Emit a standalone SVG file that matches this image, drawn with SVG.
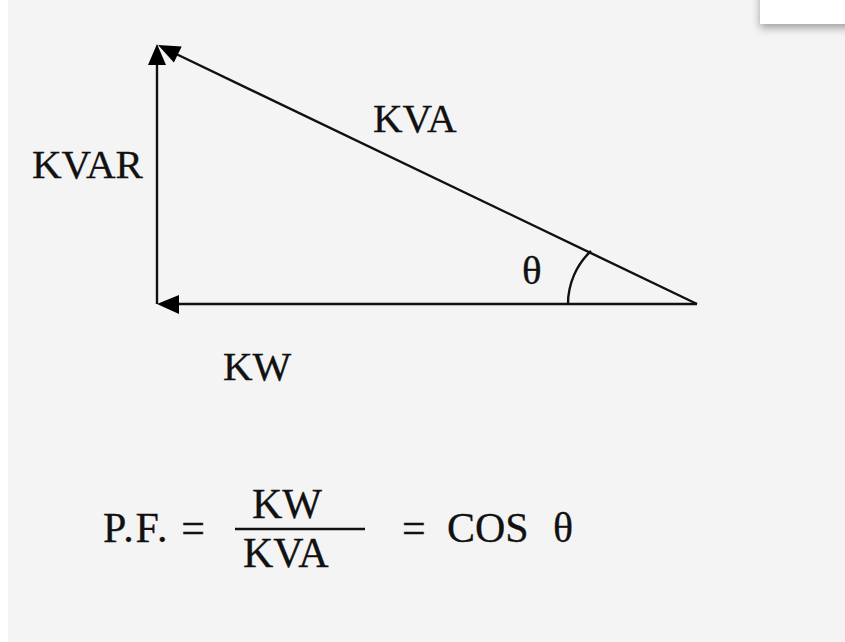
<svg xmlns="http://www.w3.org/2000/svg" width="845" height="642" viewBox="0 0 845 642">
  <style>
    .lbl { font-family: "Liberation Serif", "Times New Roman", serif; fill: #111; stroke: #111; stroke-width: 0.3; }
    .tri { font-size: 41px; }
    .eq { font-size: 42px; }
    .ln { stroke: #111; stroke-width: 2.4; fill: none; }
    .head { fill: #000; }
  </style>
  <defs>
    <filter id="sh" x="-30%" y="-50%" width="160%" height="250%">
      <feDropShadow dx="0" dy="4" stdDeviation="4" flood-color="#000" flood-opacity="0.35"/>
    </filter>
  </defs>
  <rect x="0" y="0" width="845" height="642" fill="#f4f4f4"/>
  <rect x="0" y="0" width="8" height="642" fill="#ffffff"/>
  <rect id="corner-box" x="760" y="-10" width="95" height="34" fill="#ffffff" filter="url(#sh)"/>

  <g id="connectors">
    <line class="ln" x1="157" y1="304" x2="157" y2="60"/>
    <polygon class="head" points="157,44 148,65 166,65"/>
    <line class="ln" x1="697" y1="304" x2="172" y2="304"/>
    <polygon class="head" points="157,304 179,295 179,314"/>
    <line class="ln" x1="697" y1="304" x2="172" y2="52"/>
    <polygon class="head" points="158,45 181.7,46.4 173.9,62.6"/>
    <path class="ln" d="M568,304 A72.6,72.6 0 0 1 591,251"/>
  </g>

  <g id="label-kvar"><text class="lbl tri" x="32" y="178">KVAR</text></g>
  <g id="label-kva"><text class="lbl tri" x="373" y="132">KVA</text></g>
  <g id="label-kw"><text class="lbl tri" x="223" y="380">KW</text></g>
  <g id="label-theta"><text class="lbl tri" x="522" y="284">θ</text></g>

  <g id="formula">
    <text class="lbl eq" x="103" y="542" textLength="102">P.F. =</text>
    <text class="lbl eq" x="252" y="518">KW</text>
    <line class="ln" x1="235" y1="529" x2="365" y2="529"/>
    <text class="lbl eq" x="243" y="567">KVA</text>
    <text class="lbl eq" x="402" y="542">=</text>
    <text class="lbl eq" x="447" y="542">COS</text>
    <text class="lbl eq" x="553" y="542">θ</text>
  </g>
</svg>
